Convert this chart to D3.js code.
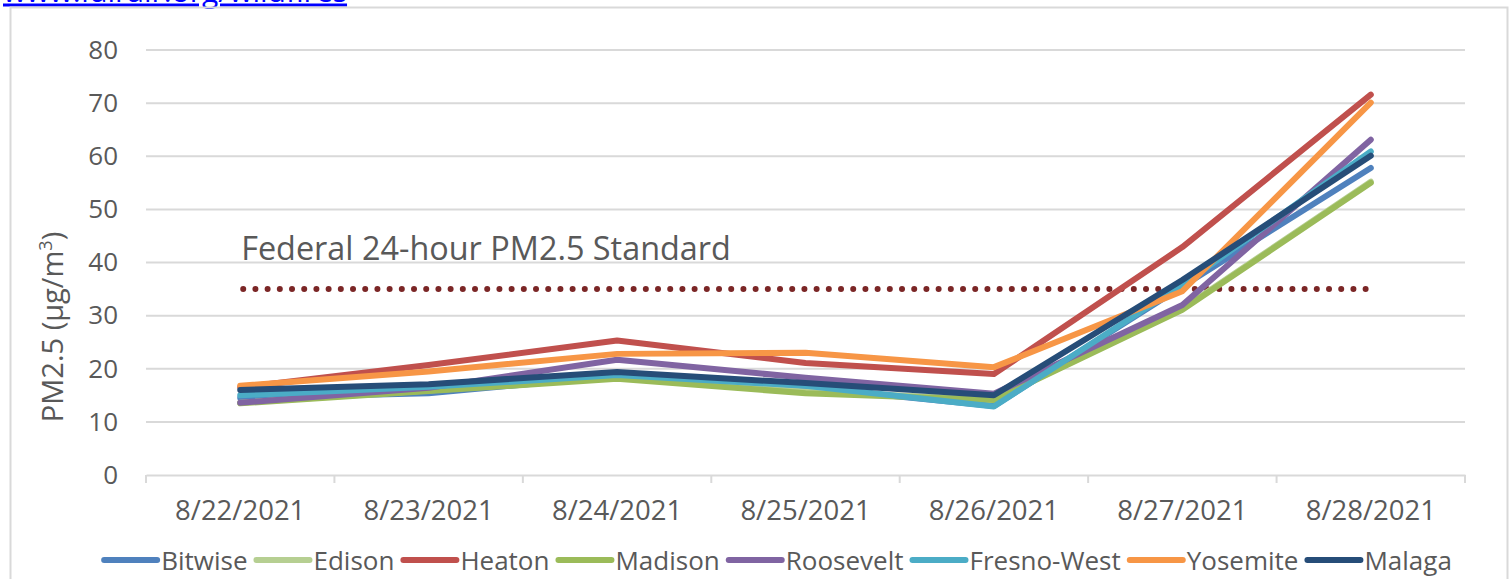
<!DOCTYPE html>
<html>
<head>
<meta charset="utf-8">
<script src="https://cdn.jsdelivr.net/npm/d3@7"></script>
<style>
  body { margin: 0; background: #fff; overflow: hidden; }
  text { font-family: "Open Sans", sans-serif; fill: #595959; }
</style>
</head>
<body>
<div id="chart"></div>
<script>
// data
const dates = ['8/22/2021', '8/23/2021', '8/24/2021', '8/25/2021', '8/26/2021', '8/27/2021', '8/28/2021'];
const sites = ['Bitwise', 'Edison', 'Heaton', 'Madison', 'Roosevelt', 'Fresno-West', 'Yosemite', 'Malaga'];
const bitwise    = [14.5, 15.4, 18.6, 16.5, 13.0, 35.5, 57.8];
const edison     = [13.6, 15.9, 18.3, 15.7, 14.2, 31.3, 55.2];
const heaton     = [16.5, 20.7, 25.3, 21.1, 19.0, 42.9, 71.6];
const madison    = [13.5, 15.8, 18.1, 15.4, 14.1, 31.1, 55.0];
const roosevelt  = [13.6, 16.4, 21.7, 18.3, 15.3, 32.0, 63.1];
const fresnoWest = [15.0, 16.6, 18.8, 16.8, 12.9, 35.8, 60.9];
const yosemite   = [16.8, 19.5, 22.8, 23.0, 20.3, 34.6, 70.1];
const malaga     = [16.0, 17.1, 19.4, 17.3, 15.0, 36.7, 60.1];
const seriesValues = [bitwise, edison, heaton, madison, roosevelt, fresnoWest, yosemite, malaga];
const colors = ['#4f81bd', '#b6cf92', '#c0504d', '#9bbb59', '#8064a2', '#4bacc6', '#f79646', '#264d78'];
const yTicks = [0, 10, 20, 30, 40, 50, 60, 70, 80];
const standard = 35;
const standardLabel = 'Federal 24-hour PM2.5 Standard';

const W = 1512, H = 579;
const margin = {top: 50, right: 47, bottom: 104, left: 146};

const svg = d3.select('#chart').append('svg')
	.attr('width', W)
	.attr('height', H);

// link text cut off at the very top (as in the source screenshot)
svg.append('text')
	.attr('x', 3)
	.attr('y', 1.5)
	.text('www.fairair.org/wildfires')
	.style('font-size', '30px')
	.style('fill', '#0000ff')
	.style('text-decoration', 'underline');

// chart area border
svg.append('rect')
	.attr('x', 10.5)
	.attr('y', 7.5)
	.attr('width', 1497)
	.attr('height', 600)
	.style('fill', 'none')
	.style('stroke', '#d9d9d9')
	.style('stroke-width', 2);

const x = d3.scaleBand().domain(dates).range([margin.left, W - margin.right]);
const y = d3.scaleLinear().domain([0, 80]).range([H - margin.bottom, margin.top]);

// gridlines
svg.append('g')
	.selectAll('line')
	.data(yTicks.slice(1))
	.enter().append('line')
	.attr('x1', margin.left)
	.attr('x2', W - margin.right)
	.attr('y1', d => y(d))
	.attr('y2', d => y(d))
	.style('stroke', '#d9d9d9')
	.style('stroke-width', 2);

// y axis labels
const yAxis = svg.append('g')
	.attr('transform', `translate(${margin.left - 28},0)`)
	.call(d3.axisLeft(y).tickValues(yTicks).tickSize(0).tickPadding(0));
yAxis.select('.domain').remove();
yAxis.selectAll('text')
	.style('font-family', '"Open Sans", sans-serif')
	.style('font-size', '26px')
	.style('fill', '#595959');

// x axis
const xAxis = svg.append('g')
	.attr('transform', `translate(0,${y(0)})`)
	.call(d3.axisBottom(x).tickSize(0).tickPadding(25));
xAxis.select('.domain').style('stroke', '#d9d9d9').style('stroke-width', 2);
xAxis.selectAll('text')
	.style('font-family', '"Open Sans", sans-serif')
	.style('font-size', '27.5px')
	.style('fill', '#595959');
xAxis.append('g')
	.selectAll('line')
	.data(dates.map(d => x(d)).concat([W - margin.right]))
	.enter().append('line')
	.attr('x1', d => d)
	.attr('x2', d => d)
	.attr('y1', 0)
	.attr('y2', 8)
	.style('stroke', '#d9d9d9')
	.style('stroke-width', 2);

// y title
const yTitle = svg.append('text')
	.attr('transform', `translate(63,327) rotate(-90)`)
	.attr('text-anchor', 'middle')
	.style('font-size', '29px');
yTitle.append('tspan').text('PM2.5 (µg/m');
yTitle.append('tspan').attr('dy', -11).style('font-size', '18px').text('3');
yTitle.append('tspan').attr('dy', 11).text(')');

const cx = d => x(d) + x.bandwidth() / 2;

// federal standard dotted line
svg.append('line')
	.attr('x1', cx(dates[0]) + 3)
	.attr('x2', cx(dates[dates.length - 1]))
	.attr('y1', y(standard))
	.attr('y2', y(standard))
	.style('stroke', '#7b2626')
	.style('stroke-width', 6)
	.style('stroke-linecap', 'round')
	.style('stroke-dasharray', '0 12.2');

svg.append('text')
	.attr('x', cx(dates[0]) + 1)
	.attr('y', y(standard) - 29)
	.style('font-size', '32.4px')
	.text(standardLabel);

// series lines
const line = d3.line()
	.x((d, i) => cx(dates[i]))
	.y(d => y(d));

svg.append('g')
	.selectAll('path')
	.data(seriesValues)
	.enter().append('path')
	.attr('d', line)
	.style('fill', 'none')
	.style('stroke', (d, i) => colors[i])
	.style('stroke-width', 6)
	.style('stroke-linecap', 'round')
	.style('stroke-linejoin', 'round');

// legend
const legend = svg.append('g').attr('class', 'legend');
const items = legend.selectAll('g')
	.data(sites)
	.enter().append('g');
items.append('line')
	.attr('x1', 2)
	.attr('x2', 55)
	.attr('y1', 0)
	.attr('y2', 0)
	.style('stroke', (d, i) => colors[i])
	.style('stroke-width', 6)
	.style('stroke-linecap', 'round');
items.append('text')
	.attr('x', 59)
	.attr('y', 9.5)
	.style('font-size', '26px')
	.text(d => d);

let offset = 0;
items.each(function () {
	const w = this.getBBox().width;
	d3.select(this).attr('transform', `translate(${offset},0)`);
	offset += w + 9;
});
const lw = offset - 9;
legend.attr('transform', `translate(${776 - lw / 2},560)`);
</script>
</body>
</html>
